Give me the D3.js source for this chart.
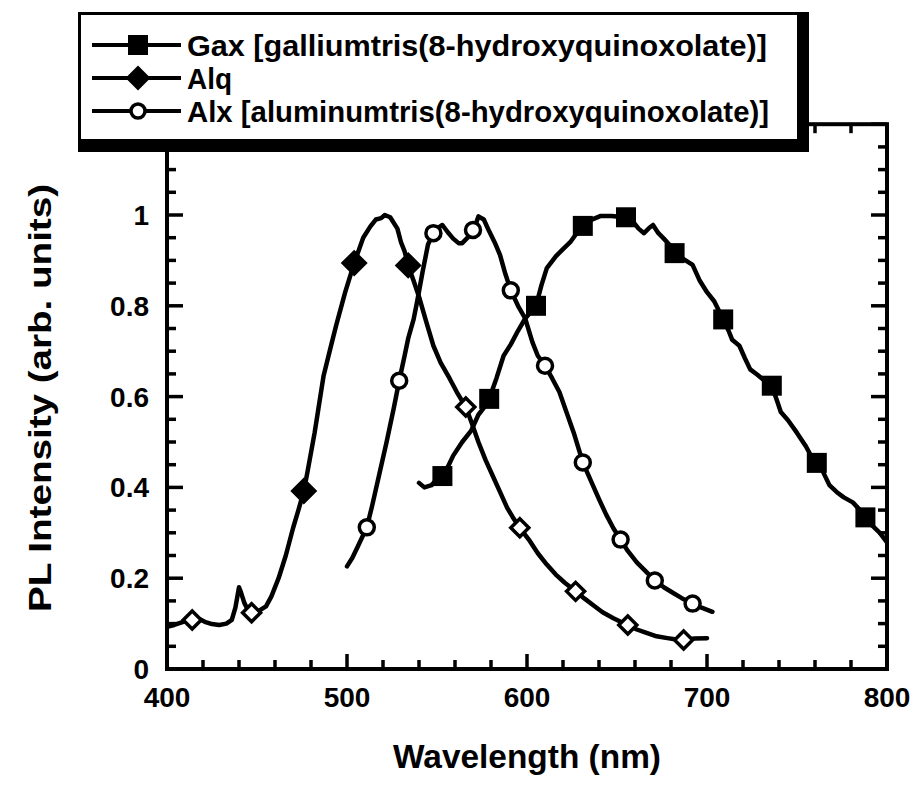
<!DOCTYPE html>
<html><head><meta charset="utf-8">
<script src="https://cdn.jsdelivr.net/npm/d3@7"></script>
<style>html,body{margin:0;padding:0;background:#fff}svg{display:block}</style>
</head><body>
<script>
// ---- data ----
const gaxCurve = [[540,0.41],[543,0.40],[547,0.405],[550,0.418],[553,0.425],[556,0.445],[559,0.47],[564,0.50],[569,0.525],[573,0.56],[576,0.575],[579,0.595],[583,0.64],[587,0.69],[591,0.715],[595,0.745],[599,0.772],[605,0.80],[608,0.845],[611,0.883],[616,0.909],[620,0.925],[624,0.94],[628,0.962],[631,0.976],[636,0.99],[641,0.998],[647,0.998],[651,0.996],[655,0.995],[659,0.985],[662,0.97],[665,0.96],[668,0.972],[670,0.978],[673,0.96],[676,0.948],[679,0.935],[682,0.916],[687,0.903],[692,0.89],[696,0.855],[700,0.83],[704,0.81],[709,0.77],[712,0.745],[714,0.725],[718,0.712],[721,0.685],[724,0.66],[728,0.648],[732,0.635],[736,0.624],[739,0.59],[741,0.566],[745,0.548],[750,0.52],[755,0.49],[758,0.468],[761,0.454],[764,0.438],[768,0.405],[772,0.39],[776,0.378],[781,0.367],[785,0.35],[788,0.334],[792,0.315],[796,0.3],[800,0.279]];
const gaxMarkers = [[553,0.425],[579,0.595],[605,0.80],[631,0.976],[655,0.995],[682,0.916],[709,0.77],[736,0.624],[761,0.454],[788,0.334]];

const alqCurve = [[400,0.093],[404,0.097],[409,0.104],[414,0.108],[418,0.11],[421,0.104],[425,0.099],[429,0.097],[433,0.1],[436,0.108],[438,0.135],[440,0.18],[441,0.17],[443,0.145],[445,0.13],[447,0.124],[451,0.128],[455,0.138],[458,0.16],[462,0.2],[466,0.25],[470,0.31],[473,0.35],[476,0.392],[478,0.433],[482,0.52],[487,0.646],[491,0.71],[494,0.757],[499,0.83],[504,0.894],[509,0.95],[513,0.975],[516,0.99],[519,0.993],[521,1.0],[524,0.995],[528,0.97],[530,0.94],[532,0.92],[534,0.889],[537,0.855],[540,0.82],[544,0.765],[548,0.712],[552,0.675],[557,0.64],[561,0.61],[566,0.577],[569,0.545],[573,0.5],[577,0.46],[581,0.425],[585,0.39],[589,0.355],[592,0.335],[596,0.311],[601,0.285],[606,0.255],[611,0.23],[616,0.208],[621,0.19],[627,0.171],[632,0.155],[637,0.14],[642,0.125],[648,0.112],[652,0.104],[656,0.097],[661,0.087],[666,0.08],[672,0.072],[678,0.068],[683,0.065],[687,0.064],[693,0.067],[700,0.068]];
const alqMarkers = [[414,0.108],[447,0.124],[476,0.392],[504,0.894],[534,0.889],[566,0.577],[596,0.311],[627,0.171],[656,0.097],[687,0.064]];
const alqMarkerFilled = [false,false,true,true,true,false,false,false,false,false];

const alxCurve = [[500,0.226],[503,0.245],[506,0.27],[509,0.295],[511,0.312],[514,0.36],[518,0.43],[522,0.5],[526,0.575],[529,0.635],[532,0.69],[534,0.728],[537,0.77],[539,0.81],[542,0.875],[545,0.935],[548,0.96],[550,0.97],[553,0.978],[556,0.962],[559,0.948],[562,0.938],[564,0.938],[567,0.95],[570,0.967],[572,0.985],[573,0.997],[576,0.99],[579,0.964],[582,0.94],[585,0.912],[588,0.87],[591,0.834],[595,0.8],[599,0.772],[603,0.72],[606,0.69],[610,0.668],[614,0.64],[618,0.61],[622,0.565],[626,0.52],[631,0.455],[636,0.41],[640,0.374],[644,0.34],[648,0.31],[652,0.285],[656,0.26],[661,0.235],[666,0.215],[671,0.195],[676,0.18],[681,0.168],[686,0.156],[692,0.144],[697,0.135],[703,0.126]];
const alxMarkers = [[511,0.312],[529,0.635],[548,0.96],[570,0.967],[591,0.834],[610,0.668],[631,0.455],[652,0.285],[671,0.195],[692,0.144]];

const xTickLabels = [400,500,600,700,800];
const yTickLabels = [0,0.2,0.4,0.6,0.8,1];
const legendLabels = ["Gax [galliumtris(8-hydroxyquinoxolate)]","Alq","Alx [aluminumtris(8-hydroxyquinoxolate)]"];
const xTitle = "Wavelength (nm)";
const yTitle = "PL Intensity (arb. units)";

// ---- chart ----
const W = 923, H = 790;
const FONT = "'Liberation Sans', Arial, Helvetica, sans-serif";
const svg = d3.select("body").append("svg").attr("width", W).attr("height", H)
  .style("font-family", FONT).style("font-weight", "bold");

const x = d3.scaleLinear().domain([400, 800]).range([167, 887]);
const y = d3.scaleLinear().domain([0, 1.2]).range([669, 124.2]);
const L = x.range()[0], R = x.range()[1], B = y.range()[0], T = y.range()[1];

const g = svg.append("g");
// ticks
const xMinor = d3.range(400, 801, 20);
const yMinor = d3.range(0, 1.2001, 0.05);
const isMajX = v => v % 100 === 0;
const isMajY = v => Math.abs(v / 0.2 - Math.round(v / 0.2)) < 1e-6;

const tickG = g.append("g").attr("stroke", "#000").attr("stroke-width", 3.5).attr("stroke-linecap", "butt");
xMinor.forEach(v => {
  const len = isMajX(v) ? 15 : 9;
  tickG.append("line").attr("x1", x(v)).attr("x2", x(v)).attr("y1", B).attr("y2", B - len);
  tickG.append("line").attr("x1", x(v)).attr("x2", x(v)).attr("y1", T).attr("y2", T + len);
});
yMinor.forEach(v => {
  const len = isMajY(v) ? 16 : 9;
  tickG.append("line").attr("x1", L).attr("x2", L + len).attr("y1", y(v)).attr("y2", y(v));
  tickG.append("line").attr("x1", R).attr("x2", R - len).attr("y1", y(v)).attr("y2", y(v));
});
// frame
g.append("rect").attr("x", L).attr("y", T).attr("width", R - L).attr("height", B - T)
  .attr("fill", "none").attr("stroke", "#000").attr("stroke-width", 4);

// tick labels
g.selectAll(".xl").data(xTickLabels).enter().append("text")
  .attr("x", d => x(d)).attr("y", 707).attr("text-anchor", "middle")
  .attr("font-size", 28).text(d => d);
g.selectAll(".yl").data(yTickLabels).enter().append("text")
  .attr("x", 149).attr("y", d => y(d)).attr("dy", "0.36em").attr("text-anchor", "end")
  .attr("font-size", 28).text(d => d);

// titles
g.append("text").attr("x", 527).attr("y", 768).attr("text-anchor", "middle")
  .attr("font-size", 33).attr("textLength", 268).attr("lengthAdjust", "spacingAndGlyphs").text(xTitle);
g.append("text").attr("transform", "translate(51,398) rotate(-90)").attr("text-anchor", "middle")
  .attr("font-size", 32).attr("textLength", 428).attr("lengthAdjust", "spacingAndGlyphs").text(yTitle);

// curves
const line = d3.line().x(d => x(d[0])).y(d => y(d[1]));
const clip = svg.append("clipPath").attr("id", "pc").append("rect")
  .attr("x", L).attr("y", T).attr("width", R - L).attr("height", B - T);
const cg = g.append("g").attr("clip-path", "url(#pc)");
[gaxCurve, alqCurve, alxCurve].forEach(c => {
  cg.append("path").datum(c).attr("d", line).attr("fill", "none").attr("stroke", "#000")
    .attr("stroke-width", 4.5).attr("stroke-linejoin", "round").attr("stroke-linecap", "round");
});

// markers
const mg = g.append("g");
function square(sel, cx, cy, s) {
  sel.append("rect").attr("x", cx - s / 2).attr("y", cy - s / 2).attr("width", s).attr("height", s).attr("fill", "#000");
}
function diamond(sel, cx, cy, r, filled) {
  sel.append("path").attr("d", `M${cx},${cy - r}L${cx + r},${cy}L${cx},${cy + r}L${cx - r},${cy}Z`)
    .attr("fill", filled ? "#000" : "#fff").attr("stroke", "#000").attr("stroke-width", 3.5);
}
function circle(sel, cx, cy, r) {
  sel.append("circle").attr("cx", cx).attr("cy", cy).attr("r", r)
    .attr("fill", "#fff").attr("stroke", "#000").attr("stroke-width", 3.5);
}
gaxMarkers.forEach(d => square(mg, x(d[0]), y(d[1]), 20));
alqMarkers.forEach((d, i) => diamond(mg, x(d[0]), y(d[1]), alqMarkerFilled[i] ? 11 : 9, alqMarkerFilled[i]));
alxMarkers.forEach(d => circle(mg, x(d[0]), y(d[1]), 7.5));

// legend
const lg = svg.append("g");
lg.append("rect").attr("x", 79.5).attr("y", 13.5).attr("width", 719).attr("height", 127)
  .attr("fill", "#fff").attr("stroke", "#000").attr("stroke-width", 3);
lg.append("rect").attr("x", 797).attr("y", 12).attr("width", 12).attr("height", 140).attr("fill", "#000");
lg.append("rect").attr("x", 78).attr("y", 139).attr("width", 731).attr("height", 13).attr("fill", "#000");

const rowsY = [56, 89, 122];
const textLens = [580, 45, 582];
legendLabels.forEach((lab, i) => {
  const cy = rowsY[i] - 11;
  lg.append("line").attr("x1", 92).attr("x2", 181).attr("y1", cy).attr("y2", cy)
    .attr("stroke", "#000").attr("stroke-width", 4);
  if (i === 0) square(lg, 138, cy, 20);
  if (i === 1) diamond(lg, 138, cy, 10, true);
  if (i === 2) circle(lg, 138, cy, 7);
  lg.append("text").attr("x", 187).attr("y", rowsY[i]).attr("font-size", 30)
    .attr("textLength", textLens[i]).attr("lengthAdjust", "spacingAndGlyphs").text(lab);
});
</script>
</body></html>
